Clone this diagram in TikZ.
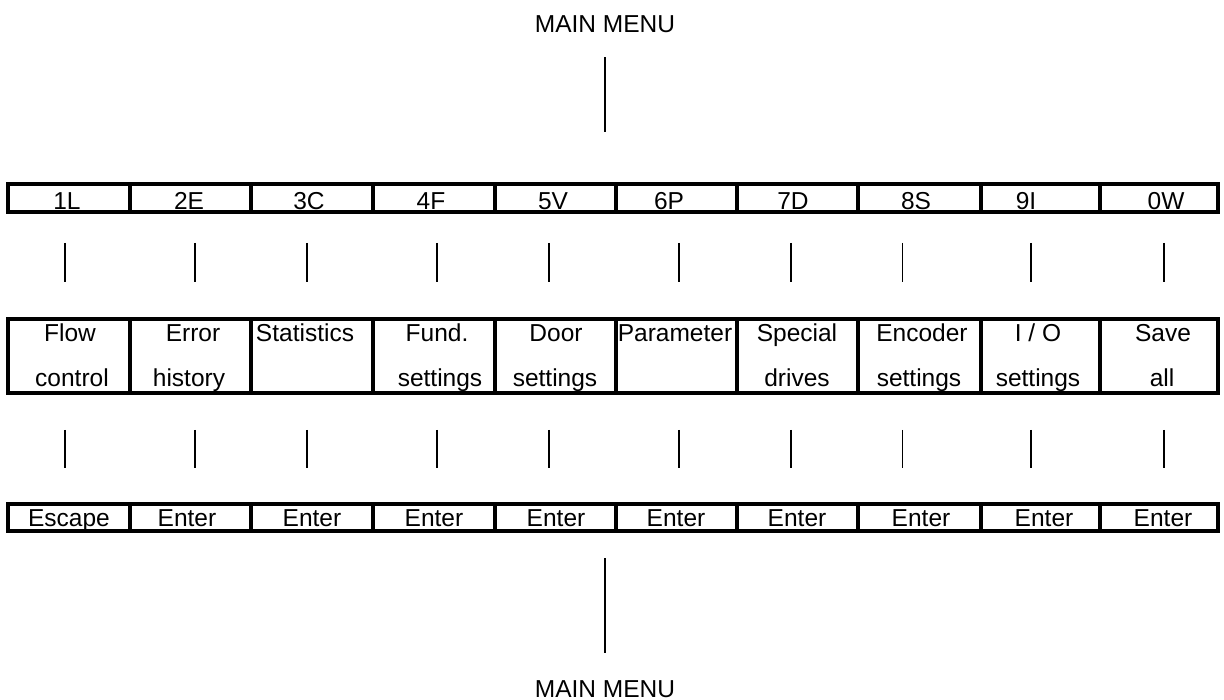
\documentclass[tikz,border=0pt]{standalone}
\usepackage{fontspec}
\setmainfont{Liberation Sans}
\begin{document}
\begin{tikzpicture}[x=1pt,y=-1pt,
  cell/.style={draw,line width=3.2pt,rectangle,inner sep=0pt,outer sep=0pt},
  txt/.style={anchor=base,inner sep=0pt,outer sep=0pt,font=\fontsize{24.5}{28}\selectfont},
  conn/.style={line width=1.4pt}]
\useasboundingbox (0,0) rectangle (1224,700);
% cells
\foreach \i/\xl/\xr in {1/8/130,2/130/251,3/251/373,4/373/495,5/495/616,6/616/737,7/737/858,8/858/981,9/981/1100,10/1100/1218}{
  \node[cell,minimum width={(\xr-\xl)*1pt},minimum height=28pt] (t\i) at ({(\xl+\xr)/2},198) {};
  \node[cell,minimum width={(\xr-\xl)*1pt},minimum height=74pt] (m\i) at ({(\xl+\xr)/2},356) {};
  \node[cell,minimum width={(\xr-\xl)*1pt},minimum height=27pt] (b\i) at ({(\xl+\xr)/2},517.5) {};
}
% top row texts
\foreach \i/\x/\t in {1/67/1L,2/189/2E,3/309/3C,4/431/4F,5/553/5V,6/669/6P,7/793/7D,8/916/8S,9/1026/9I,10/1166/0W}{
  \node[txt] (tt\i) at (\x,210) {\t};
}
% middle row texts
\node[txt] (ma1) at (70,342) {Flow};
\node[txt] (mb1) at (72,387) {control};
\node[txt] (ma2) at (193,342) {Error};
\node[txt] (mb2) at (189,387) {history};
\node[txt] (ma3) at (305,342) {Statistics};
\node[txt] (ma4) at (437,342) {Fund.};
\node[txt] (mb4) at (440,387) {settings};
\node[txt] (ma5) at (556,342) {Door};
\node[txt] (mb5) at (555,387) {settings};
\node[txt] (ma6) at (675,342) {Parameter};
\node[txt] (ma7) at (797,342) {Special};
\node[txt] (mb7) at (797,387) {drives};
\node[txt] (ma8) at (922,342) {Encoder};
\node[txt] (mb8) at (919,387) {settings};
\node[txt] (ma9) at (1038,342) {I / O};
\node[txt] (mb9) at (1038,387) {settings};
\node[txt] (ma10) at (1163,342) {Save};
\node[txt] (mb10) at (1162,387) {all};
% bottom row texts
\foreach \i/\x/\t in {1/69/Escape,2/187/Enter,3/312/Enter,4/434/Enter,5/556/Enter,6/676/Enter,7/797/Enter,8/921/Enter,9/1044/Enter,10/1163/Enter}{
  \node[txt] (bt\i) at (\x,526) {\t};
}
% connectors between rows
\foreach \i/\d in {1/-4,2/4.5,3/-5,4/3,5/-6.5,6/2.5,7/-6.5,8/-17,9/-9.5,10/5}{
  \draw[conn,shorten <=31pt,shorten >=37pt] ([xshift=\d pt]t\i.south) -- ([xshift=\d pt]m\i.north);
  \draw[conn,shorten <=37pt,shorten >=36pt] ([xshift=\d pt]m\i.south) -- ([xshift=\d pt]b\i.north);
}
% main menu
\node[txt] (menuT) at (605,33) {MAIN MENU};
\node[txt] (menuB) at (605,697) {MAIN MENU};
\coordinate (topjoin) at (605,184);
\coordinate (botjoin) at (605,531);
\draw[conn,shorten <=24pt,shorten >=52pt] (menuT.south) -- (topjoin);
\draw[conn,shorten <=27pt,shorten >=27.5pt] (botjoin) -- (menuB.north);
\end{tikzpicture}
\end{document}
